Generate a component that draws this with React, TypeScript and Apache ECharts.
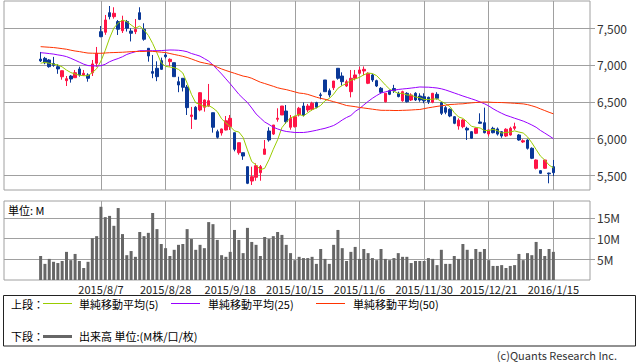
import React, { useEffect, useRef } from 'react';
import * as echarts from 'echarts';

const dates = [
  '2015/7/17','2015/7/21','2015/7/22','2015/7/23','2015/7/24','2015/7/27','2015/7/28','2015/7/29','2015/7/30','2015/7/31',
  '2015/8/3','2015/8/4','2015/8/5','2015/8/6','2015/8/7','2015/8/10','2015/8/11','2015/8/12','2015/8/13','2015/8/14',
  '2015/8/17','2015/8/18','2015/8/19','2015/8/20','2015/8/21','2015/8/24','2015/8/25','2015/8/26','2015/8/27','2015/8/28',
  '2015/8/31','2015/9/1','2015/9/2','2015/9/3','2015/9/4','2015/9/7','2015/9/8','2015/9/9','2015/9/10','2015/9/11',
  '2015/9/14','2015/9/15','2015/9/16','2015/9/17','2015/9/18','2015/9/24','2015/9/25','2015/9/28','2015/9/29','2015/9/30',
  '2015/10/1','2015/10/2','2015/10/5','2015/10/6','2015/10/7','2015/10/8','2015/10/9','2015/10/13','2015/10/14','2015/10/15',
  '2015/10/16','2015/10/19','2015/10/20','2015/10/21','2015/10/22','2015/10/23','2015/10/26','2015/10/27','2015/10/28','2015/10/29',
  '2015/10/30','2015/11/2','2015/11/4','2015/11/5','2015/11/6','2015/11/9','2015/11/10','2015/11/11','2015/11/12','2015/11/13',
  '2015/11/16','2015/11/17','2015/11/18','2015/11/19','2015/11/20','2015/11/24','2015/11/25','2015/11/26','2015/11/27','2015/11/30',
  '2015/12/1','2015/12/2','2015/12/3','2015/12/4','2015/12/7','2015/12/8','2015/12/9','2015/12/10','2015/12/11','2015/12/14',
  '2015/12/15','2015/12/16','2015/12/17','2015/12/18','2015/12/21','2015/12/22','2015/12/24','2015/12/25','2015/12/28','2015/12/29',
  '2015/12/30','2016/1/4','2016/1/5','2016/1/6','2016/1/7','2016/1/8','2016/1/12','2016/1/13','2016/1/14','2016/1/15',
];

const openP = [
  7080, 7090, 7068, 7020, 6977, 6840, 6787, 6850, 6827, 6946,
  6864, 6864, 6895, 7023, 7453, 7445, 7711, 7657, 7590, 7466,
  7590, 7462, 7453, 7711, 7485, 7227, 6910, 6955, 7059, 7136,
  7045, 7031, 6773, 6819, 6700, 6300, 6425, 6388, 6425, 6442,
  6351, 6093, 6075, 6116, 6161, 6079, 5807, 5807, 5617, 5422,
  5473, 5535, 5785, 6102, 6061, 6262, 6320, 6374, 6153, 6161,
  6320, 6442, 6388, 6397, 6488, 6594, 6796, 6650, 6691, 6955,
  6850, 6714, 6637, 6819, 6887, 6918, 6751, 6864, 6787, 6683,
  6500, 6650, 6680, 6615, 6514, 6615, 6524, 6615, 6578, 6569,
  6560, 6493, 6601, 6487, 6420, 6398, 6297, 6170, 6161, 6139,
  6093, 6071, 6225, 6215, 6062, 6139, 6130, 6093, 6034, 6048,
  6139, 6048, 5953, 5980, 5867, 5595, 5563, 5595, 5530, 5617,
];

const closeP = [
  7055, 7030, 6977, 6995, 6946, 6922, 6813, 6810, 6895, 6864,
  6887, 6819, 7014, 7159, 7385, 7612, 7657, 7703, 7486, 7602,
  7500, 7431, 7485, 7620, 7350, 7122, 6887, 6841, 6941, 7113,
  7077, 6841, 6728, 6697, 6420, 6320, 6262, 6623, 6524, 6514,
  6153, 6017, 6130, 6242, 6275, 5853, 5943, 5762, 5391, 5481,
  5630, 5617, 5858, 5980, 6184, 6276, 6442, 6229, 6275, 6297,
  6411, 6320, 6442, 6480, 6425, 6585, 6637, 6592, 6782, 6819,
  6773, 6773, 6819, 6864, 6932, 6941, 6887, 6796, 6714, 6629,
  6615, 6601, 6650, 6570, 6637, 6500, 6592, 6524, 6524, 6514,
  6500, 6615, 6547, 6343, 6357, 6306, 6207, 6250, 6252, 6116,
  6003, 6139, 6207, 6079, 6116, 6079, 6060, 6034, 6126, 6139,
  6161, 5980, 5970, 5867, 5731, 5708, 5527, 5708, 5520, 5536,
];

const highP = [
  7177, 7110, 7080, 7110, 7010, 6925, 6850, 6864, 6932, 6977,
  6932, 6887, 7068, 7245, 7530, 7680, 7802, 7785, 7612, 7670,
  7612, 7500, 7625, 7785, 7567, 7227, 7136, 7050, 7100, 7160,
  7090, 7031, 6840, 6819, 6728, 6430, 6440, 6630, 6530, 6742,
  6351, 6120, 6135, 6306, 6320, 6079, 5943, 5807, 5617, 5617,
  5663, 5640, 5980, 6153, 6184, 6411, 6442, 6456, 6320, 6310,
  6430, 6490, 6470, 6500, 6500, 6623, 6796, 6680, 6782, 6955,
  6900, 6800, 6932, 6932, 6977, 6980, 6900, 6880, 6800, 6700,
  6615, 6665, 6730, 6637, 6650, 6630, 6615, 6630, 6615, 6615,
  6570, 6620, 6630, 6500, 6440, 6410, 6305, 6275, 6265, 6160,
  6100, 6150, 6343, 6420, 6120, 6160, 6150, 6100, 6140, 6160,
  6215, 6060, 5990, 5990, 5880, 5715, 5570, 5710, 5535, 5708,
];

const lowP = [
  7040, 7010, 6963, 6975, 6880, 6800, 6714, 6760, 6827, 6841,
  6850, 6773, 6850, 6977, 7377, 7410, 7620, 7630, 7408, 7435,
  7455, 7320, 7420, 7610, 7330, 7045, 6820, 6780, 6932, 7090,
  6980, 6841, 6630, 6640, 6320, 6130, 6262, 6370, 6365, 6433,
  6080, 6000, 6040, 6110, 6116, 5826, 5780, 5710, 5380, 5368,
  5426, 5426, 5785, 5957, 6048, 6229, 6320, 6200, 6120, 6150,
  6300, 6300, 6360, 6380, 6410, 6533, 6637, 6560, 6660, 6800,
  6720, 6700, 6560, 6790, 6870, 6860, 6740, 6770, 6700, 6610,
  6490, 6590, 6620, 6560, 6500, 6490, 6510, 6510, 6500, 6480,
  6470, 6480, 6530, 6320, 6330, 6290, 6195, 6120, 6140, 5980,
  5995, 6060, 6200, 6070, 6030, 6070, 6040, 6010, 6020, 6040,
  6116, 5970, 5940, 5850, 5720, 5580, 5520, 5590, 5391, 5490,
];

// closes of the 4 sessions before the first visible one (read from the MA5 start)
const priorCloses = [6960, 7047, 7060, 6993];

const ma25 = [
  7167, 7162, 7155, 7148, 7137, 7128, 7114, 7091, 7065, 7038,
  7011, 6992, 6988, 6986, 6990, 7010, 7044, 7068, 7088, 7112,
  7143, 7163, 7180, 7194, 7194, 7194, 7194, 7194, 7196, 7200,
  7204, 7203, 7200, 7193, 7180, 7156, 7139, 7120, 7087, 7053,
  7000, 6939, 6878, 6811, 6744, 6674, 6602, 6544, 6490, 6415,
  6334, 6279, 6225, 6191, 6154, 6130, 6110, 6096, 6089, 6082,
  6082, 6082, 6089, 6100, 6112, 6126, 6139, 6157, 6177, 6211,
  6252, 6286, 6313, 6368, 6407, 6456, 6504, 6547, 6585, 6619,
  6634, 6649, 6657, 6667, 6674, 6679, 6686, 6693, 6701, 6699,
  6698, 6693, 6687, 6676, 6660, 6640, 6619, 6599, 6578, 6559,
  6540, 6520, 6497, 6473, 6443, 6405, 6372, 6343, 6316, 6297,
  6276, 6257, 6237, 6212, 6184, 6153, 6110, 6074, 6037, 5998,
];

const ma50 = [
  7249, 7245, 7241, 7237, 7230, 7222, 7214, 7201, 7190, 7182,
  7171, 7162, 7160, 7159, 7159, 7163, 7167, 7169, 7171, 7173,
  7177, 7181, 7184, 7184, 7184, 7189, 7185, 7180, 7174, 7169,
  7156, 7143, 7131, 7118, 7102, 7082, 7060, 7039, 7026, 7014,
  7000, 6970, 6946, 6925, 6906, 6887, 6868, 6849, 6838, 6819,
  6792, 6766, 6748, 6729, 6710, 6690, 6676, 6665, 6650, 6634,
  6618, 6612, 6600, 6581, 6562, 6546, 6534, 6517, 6501, 6485,
  6467, 6449, 6441, 6433, 6423, 6415, 6407, 6399, 6391, 6384,
  6383, 6383, 6381, 6381, 6383, 6385, 6388, 6392, 6395, 6406,
  6418, 6427, 6437, 6445, 6453, 6463, 6465, 6470, 6472, 6479,
  6485, 6490, 6494, 6497, 6495, 6491, 6490, 6489, 6486, 6483,
  6479, 6475, 6471, 6461, 6445, 6427, 6403, 6380, 6357, 6336,
];

// volume, millions
const volumeM = [
  5.8, 3.9, 5.1, 4.4, 4.1, 4.6, 6.8, 4.8, 6.3, 4.6,
  2.9, 4.4, 10.1, 10.6, 17.7, 15.2, 15.5, 13.1, 17.4, 11.1,
  6.0, 7.0, 5.6, 11.6, 10.6, 11.4, 16.2, 12.3, 8.7, 7.7,
  5.8, 7.3, 8.5, 8.7, 12.3, 9.9, 7.3, 8.5, 7.7, 14.0,
  13.5, 9.7, 6.0, 5.6, 6.8, 12.1, 9.7, 6.5, 12.6, 9.2,
  8.5, 5.8, 10.4, 9.9, 10.6, 11.6, 10.9, 8.5, 6.5, 4.8,
  5.6, 5.3, 5.3, 5.6, 3.9, 7.5, 5.1, 3.9, 8.5, 12.1,
  7.7, 4.6, 6.8, 8.0, 5.1, 7.5, 6.5, 5.3, 4.8, 7.5,
  5.1, 4.8, 5.3, 6.5, 5.6, 5.6, 4.1, 4.6, 4.6, 4.6,
  5.3, 5.1, 3.6, 7.3, 3.9, 3.9, 5.8, 5.1, 8.7, 7.3,
  5.1, 7.5, 6.8, 7.5, 4.8, 3.4, 3.4, 3.6, 2.9, 3.4,
  3.6, 6.3, 4.8, 6.5, 6.0, 9.2, 7.5, 5.8, 7.5, 6.8,
];

const priceTicks = [5500, 6000, 6500, 7000, 7500];
const volumeTicks = [5, 10, 15];
const gridDates = ['2015/8/7', '2015/8/28', '2015/9/18', '2015/10/15', '2015/11/6', '2015/11/30', '2015/12/21', '2016/1/15'];

const PAD = 8;
const FONT = '"Noto Sans CJK JP", "Noto Sans", sans-serif';
const RED = '#FF1446';
const BLUE = '#0A3897';
const C_MA5 = '#99CC00';
const C_MA25 = '#9900FF';
const C_MA50 = '#FF3300';
const GRID = '#A0A0A0';

export default function App() {
  const ref = useRef<HTMLDivElement>(null);
  useEffect(() => {
    document.body.style.margin = '0';
    const chart = echarts.init(ref.current!, null, { renderer: 'svg' });

    const categories = [
      ...Array.from({ length: PAD }, (_, i) => `pre${i}`),
      ...dates,
      ...Array.from({ length: PAD }, (_, i) => `post${i}`),
    ];
    const gridIdx = gridDates.map((d) => categories.indexOf(d));
    const closesExt = [...priorCloses, ...closeP];
    const ma5 = closeP.map((_, i) => {
      const s = closesExt.slice(i, i + 5);
      return Math.round(s.reduce((a, b) => a + b, 0) / 5);
    });
    const candleData = dates.map((_, i) => [i + PAD, openP[i], closeP[i], lowP[i], highP[i]]);
    const toXY = (arr: number[]) => arr.map((v, i) => [i + PAD, v]);

    const markLineBase = {
      silent: true,
      z: 1,
      symbol: ['none', 'none'],
      label: { show: false },
      emphasis: { disabled: true },
      lineStyle: { color: GRID, width: 1, type: 'solid' },
      animation: false,
    };

    const txt = (text: string, x: number, y: number, extra: any = {}) => ({
      type: 'text', x, y,
      style: { text, fontSize: 11, fontFamily: FONT, fill: '#000', verticalAlign: 'middle', ...extra },
    });

    const option: any = {
      animation: false,
      backgroundColor: '#fff',
      textStyle: { fontFamily: FONT },
      grid: [
        { left: 4, top: 1, width: 586, height: 189, show: true, borderColor: GRID, borderWidth: 1, backgroundColor: 'transparent' },
        { left: 4, top: 201, width: 586, height: 79, show: true, borderColor: GRID, borderWidth: 1, backgroundColor: 'transparent' },
      ],
      xAxis: [
        {
          type: 'category', gridIndex: 0, data: categories, boundaryGap: true,
          axisLine: { show: false }, axisTick: { show: false }, axisLabel: { show: false }, splitLine: { show: false },
        },
        {
          type: 'category', gridIndex: 1, data: categories, boundaryGap: true,
          axisLine: { show: false }, axisTick: { show: false }, splitLine: { show: false },
          axisLabel: {
            show: true,
            interval: (i: number) => gridIdx.includes(i),
            color: '#222', fontSize: 11, margin: 3, fontFamily: FONT,
          },
        },
      ],
      yAxis: [
        {
          type: 'value', gridIndex: 0, position: 'right', min: 5300, max: 7870,
          axisLine: { show: false }, splitLine: { show: false },
          axisTick: { show: true, length: 5, lineStyle: { color: GRID }, customValues: priceTicks },
          axisLabel: {
            customValues: priceTicks, color: '#333', fontSize: 12, margin: 7, fontFamily: FONT,
            formatter: (v: number) => v.toLocaleString('en-US'),
          },
        },
        {
          type: 'value', gridIndex: 1, position: 'right', min: 0, max: 19.1,
          axisLine: { show: false }, splitLine: { show: false },
          axisTick: { show: true, length: 5, lineStyle: { color: GRID }, customValues: volumeTicks },
          axisLabel: {
            customValues: volumeTicks, color: '#333', fontSize: 12, margin: 7, fontFamily: FONT,
            formatter: (v: number) => `${v}M`,
          },
        },
      ],
      series: [
        {
          type: 'line', xAxisIndex: 0, yAxisIndex: 0, data: [], z: 1, silent: true,
          markLine: {
            ...markLineBase,
            data: [...priceTicks.map((v) => ({ yAxis: v })), ...gridDates.map((d) => ({ xAxis: d }))],
          },
        },
        {
          type: 'line', xAxisIndex: 1, yAxisIndex: 1, data: [], z: 1, silent: true,
          markLine: {
            ...markLineBase,
            data: [...volumeTicks.map((v) => ({ yAxis: v })), ...gridDates.map((d) => ({ xAxis: d }))],
          },
        },
        {
          type: 'candlestick', xAxisIndex: 0, yAxisIndex: 0, data: candleData,
          encode: { x: 0, y: [1, 2, 3, 4] }, barWidth: 3, z: 2, silent: true,
          itemStyle: { color: RED, color0: BLUE, borderColor: RED, borderColor0: BLUE, borderWidth: 1 },
        },
        {
          name: '単純移動平均(5)', type: 'line', xAxisIndex: 0, yAxisIndex: 0, data: toXY(ma5),
          symbol: 'none', z: 3, silent: true, lineStyle: { color: C_MA5, width: 1 },
        },
        {
          name: '単純移動平均(25)', type: 'line', xAxisIndex: 0, yAxisIndex: 0, data: toXY(ma25),
          symbol: 'none', z: 3, silent: true, lineStyle: { color: C_MA25, width: 1 },
        },
        {
          name: '単純移動平均(50)', type: 'line', xAxisIndex: 0, yAxisIndex: 0, data: toXY(ma50),
          symbol: 'none', z: 3, silent: true, lineStyle: { color: C_MA50, width: 1 },
        },
        {
          name: '出来高', type: 'bar', xAxisIndex: 1, yAxisIndex: 1, data: toXY(volumeM),
          barWidth: 3, z: 2, silent: true, itemStyle: { color: '#666' },
        },
      ],
      graphic: [
        txt('単位: M', 8, 210),
        { type: 'rect', shape: { x: 3.5, y: 295.5, width: 632, height: 50.5 }, style: { fill: 'none', stroke: '#222', lineWidth: 1 } },
        txt('上段：', 11, 304),
        { type: 'line', shape: { x1: 43, y1: 303.5, x2: 72, y2: 303.5 }, style: { stroke: C_MA5, lineWidth: 1 } },
        txt('単純移動平均(5)', 79, 304),
        { type: 'line', shape: { x1: 171, y1: 303.5, x2: 200, y2: 303.5 }, style: { stroke: C_MA25, lineWidth: 1 } },
        txt('単純移動平均(25)', 208, 304),
        { type: 'line', shape: { x1: 316, y1: 303.5, x2: 345, y2: 303.5 }, style: { stroke: C_MA50, lineWidth: 1 } },
        txt('単純移動平均(50)', 353, 304),
        txt('下段：', 11, 336),
        { type: 'rect', shape: { x: 43, y: 335, width: 29, height: 3 }, style: { fill: '#666' } },
        txt('出来高 単位:(M株/口/枚)', 79, 336),
        txt('(c)Quants Research Inc.', 617, 355, { fill: '#333', align: 'right' }),
      ],
    };

    chart.setOption(option);
    return () => chart.dispose();
  }, []);
  return <div ref={ref} style={{ width: 638, height: 362 }} />;
}
